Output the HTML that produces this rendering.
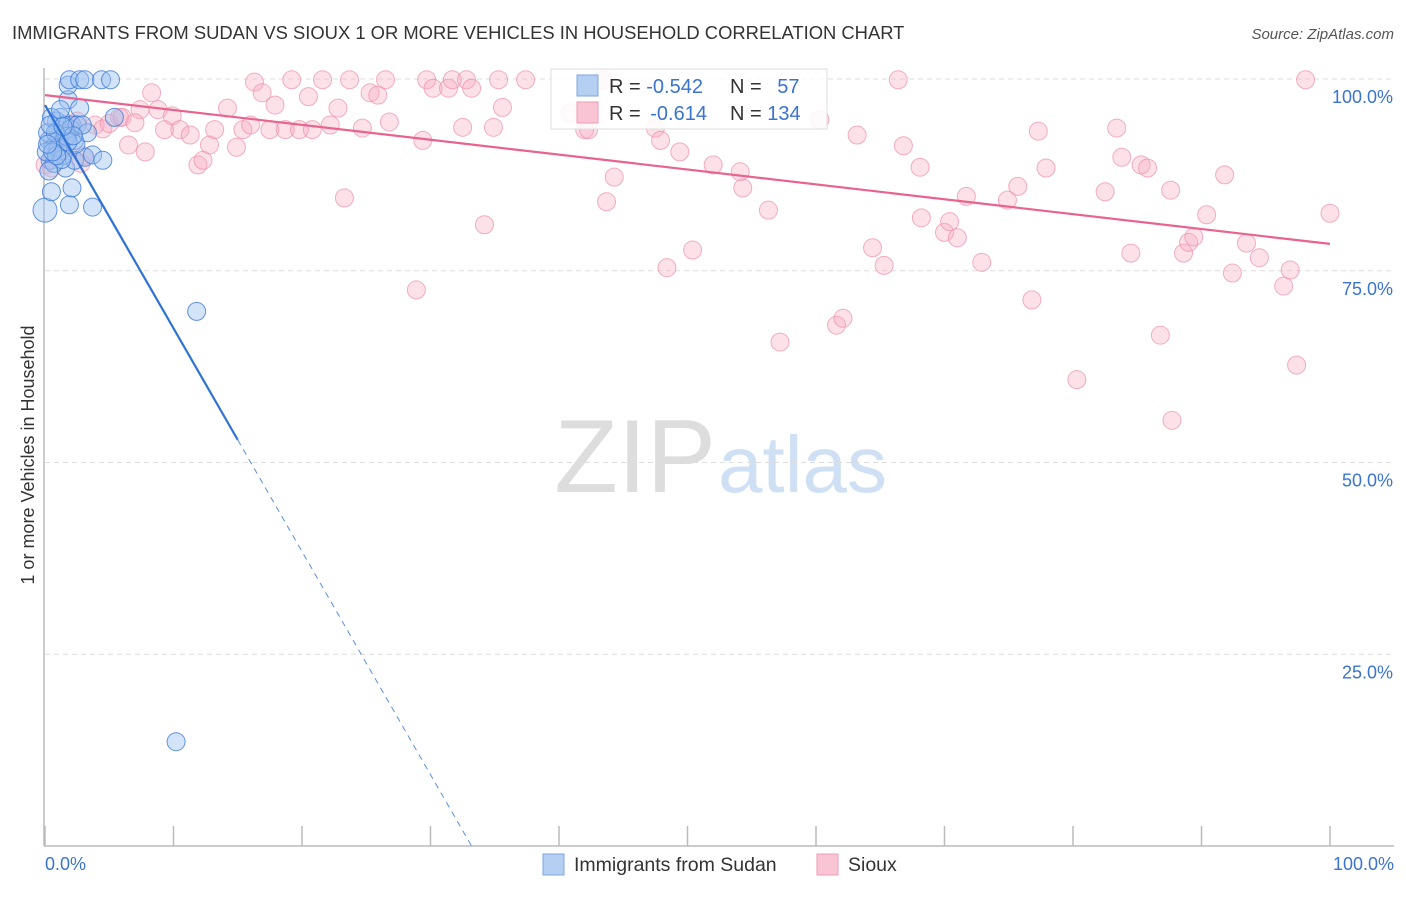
<!DOCTYPE html>
<html><head><meta charset="utf-8"><style>
body{margin:0;background:#fff;font-family:"Liberation Sans",sans-serif}
svg text{font-family:"Liberation Sans",sans-serif}
</style></head><body>
<svg width="1406" height="892" viewBox="0 0 1406 892">
<text x="12" y="39" font-size="18.4" fill="#333">IMMIGRANTS FROM SUDAN VS SIOUX 1 OR MORE VEHICLES IN HOUSEHOLD CORRELATION CHART</text>
<text x="1394" y="39" font-size="15" fill="#555" font-style="italic" text-anchor="end">Source: ZipAtlas.com</text>
<text x="716" y="492" font-size="104" fill="#ddd" text-anchor="end" font-family="Liberation Serif">ZIP</text>
<text x="718" y="492" font-size="80" fill="#cfe0f5">atlas</text>
<g id="grid"></g>
<g id="axes"></g>
<g id="pts"></g>
<g id="lines"></g>
<text transform="translate(34,455) rotate(-90)" font-size="18" fill="#333" text-anchor="middle">1 or more Vehicles in Household</text>
<text x="45" y="870" font-size="18" fill="#3a73d0">0.0%</text>
<text x="1394" y="870" font-size="18" fill="#3a73d0" text-anchor="end">100.0%</text>
<g>
<rect x="543" y="854" width="21" height="21" fill="#b5cff3" stroke="#7ea6e0"/>
<text x="574" y="871" font-size="19.5" fill="#333">Immigrants from Sudan</text>
<rect x="817" y="854" width="21" height="21" fill="#f9c5d4" stroke="#ee9ab4"/>
<text x="848" y="871" font-size="19.5" fill="#333">Sioux</text>
</g>
<g>
<rect x="551" y="69" width="276" height="60" fill="#fff" fill-opacity="0.85" stroke="#ddd"/>
<rect x="577" y="75" width="21" height="21" fill="#b5cff3" stroke="#7ea6e0"/>
<text x="609" y="93" font-size="20" fill="#333">R = <tspan fill="#3a73d0">-0.542</tspan></text>
<text x="730" y="93" font-size="20" fill="#333">N = <tspan fill="#3a73d0" dx="10">57</tspan></text>
<rect x="577" y="102" width="21" height="21" fill="#f9c5d4" stroke="#ee9ab4"/>
<text x="609" y="120" font-size="20" fill="#333">R = <tspan fill="#3a73d0" dx="4">-0.614</tspan></text>
<text x="730" y="120" font-size="20" fill="#333">N = <tspan fill="#3a73d0">134</tspan></text>
</g>
</svg>
<script>
const yTicks=[25,50,75,100];
const yTickLabels=["25.0%","50.0%","75.0%","100.0%"];
const xTicks=[0,10,20,30,40,50,60,70,80,90,100];
const siouxX=[0,0.5,2,3.9,5.8,6.5,7.4,7.8,8.3,8.8,9.3,9.9,10.5,11.3,11.9,12.3,12.8,13.2,14.2,14.9,15.4,16,16.3,16.9,17.5,17.9,18.7,19.2,19.8,20.5,20.8,21.6,22.2,22.8,23.3,23.7,24.7,25.3,25.9,26.5,26.8,28.9,29.4,29.7,30.2,31.4,31.7,32.5,32.8,33.2,34.2,34.9,35.3,35.6,37.4,40.9,42,42.3,43.4,43.7,44.3,47.5,47.9,48.4,49.4,50.4,52,54.1,54.3,56.3,57.2,60.3,61.6,62.1,63.2,64.4,65.3,66.4,66.8,68.1,68.2,70,70.4,71,71.7,72.9,74.9,75.7,76.8,77.3,77.9,80.3,82.5,83.4,83.8,84.5,85.3,85.8,86.8,87.6,87.7,88.6,89,89.4,90.4,91.8,92.4,93.5,94.5,96.4,96.9,97.4,98.1,100,1,1.5,2.5,3,4.5,5,6,7,1.2,2.8];
const siouxY=[88.8,88.4,94,94,95,91.4,96,90.5,98.2,96,93.4,95.2,93.4,92.7,88.8,89.4,91.4,93.4,96.2,91.1,93.4,94,99.6,98.2,93.4,96.6,93.4,99.9,93.4,97.7,93.4,99.9,94,96.2,84.5,99.9,93.6,98.2,97.9,99.9,94.4,72.5,92,99.9,98.8,98.8,99.9,93.7,99.9,98.8,81,93.7,99.9,96.3,99.9,95.6,93.4,93.4,99.9,84,87.2,93.6,92,75.4,90.5,77.7,88.8,87.9,85.8,82.9,65.7,94.7,67.9,68.8,92.7,78,75.7,99.9,91.3,88.5,81.9,80,81.4,79.3,84.7,76.1,84.2,86,71.2,93.2,88.4,60.8,85.3,93.6,89.8,77.3,88.8,88.4,66.6,85.5,55.5,77.3,78.7,79.4,82.3,87.5,74.7,78.6,76.7,73,75.1,62.7,99.9,82.5,92,93,94.5,90,93.5,94.2,95,94.3,90.5,89];
const sudanX=[0,0.4,0.5,0.8,1,1.2,1.3,1.6,1.6,1.8,1.8,1.9,1.9,2.1,2.1,2.3,2.3,2.7,2.7,3.1,3.1,3.7,3.7,4.4,4.5,5.1,5.4,11.8,10.2,0.3,0.6,0.9,1.1,1.4,0.2,0.7,1.5,2,2.4,0.1,0.5,1,1.7,2.5,0.3,0.8,1.3,0.4,0.9,1.2,3.3,2.9,0.6,1.8,2.2,0.2,1.4];
const sudanY=[82.9,89.4,85.3,91.4,93.4,95,90.7,88.4,92.7,97.3,99.2,99.9,83.6,85.8,94,92,89.4,99.9,96.2,99.9,89.8,83.3,90.1,99.9,89.4,99.9,95,69.7,13.6,92,91,94.5,92.5,90,93,89,94,93.5,91.5,90.5,95,91,92.5,94,88,93,89.5,94,90,96,93,94,90.5,91.8,92.6,91.5,93.8];
const fits={sudan:[96.6,-2.91,15,33.2],sioux:[97.9,-0.194]};
const ns="http://www.w3.org/2000/svg";
const X=v=>45+v*12.85, Y=v=>846-v*7.67;
function mk(t,a,p){const e=document.createElementNS(ns,t);for(const k in a)e.setAttribute(k,a[k]);p.appendChild(e);return e;}
const grid=document.getElementById('grid'),axes=document.getElementById('axes'),pts=document.getElementById('pts'),lines=document.getElementById('lines');
yTicks.forEach((t,i)=>{
 const l=mk('line',{x1:45,x2:1394,y1:Y(t),y2:Y(t),stroke:'#ddd','stroke-dasharray':'5,4'},grid);
 
 
 const tx=mk('text',{x:1393,y:Y(t)+24,'font-size':18,fill:'#3a73d0','text-anchor':'end'},grid);
 tx.textContent=yTickLabels[i];
 
 
});
const ya=mk('line',{x1:44,x2:44,y1:68,y2:846,stroke:'#bbb','stroke-width':1.5},axes);


const xa=mk('line',{x1:44,x2:1394,y1:846,y2:846,stroke:'#bbb','stroke-width':1.5},axes);


xTicks.forEach(t=>{
 const l=mk('line',{x1:X(t),x2:X(t),y1:826,y2:846,stroke:'#bbb','stroke-width':1.5},axes);
 
 
});
siouxX.forEach((x,i)=>{
 const c=mk('circle',{cx:X(x),cy:Y(siouxY[i]),r:9,fill:'#f6a9c0','fill-opacity':0.35,stroke:'#ec8fab','stroke-opacity':0.7,'stroke-width':1},pts);
 
 
});
sudanX.forEach((x,i)=>{
 const c=mk('circle',{cx:X(x),cy:Y(sudanY[i]),r:i==0?12:9,fill:'#9dc0ef','fill-opacity':0.45,stroke:'#3d7ad8','stroke-opacity':0.8,'stroke-width':1},pts);
 
 
});
const s=fits.sudan,p=fits.sioux;
const l1=mk('line',{x1:X(0),y1:Y(s[0]),x2:X(s[2]),y2:Y(s[0]+s[1]*s[2]),stroke:'#2f72d6','stroke-width':2.2},lines);


const l2=mk('line',{x1:X(s[2]),y1:Y(s[0]+s[1]*s[2]),x2:X(s[3]),y2:Y(s[0]+s[1]*s[3]),stroke:'#5b8fdc','stroke-width':1,'stroke-dasharray':'6,5'},lines);


const l3=mk('line',{x1:X(0),y1:Y(p[0]),x2:X(100),y2:Y(p[0]+p[1]*100),stroke:'#e8638e','stroke-width':2.2},lines);


</script>
</body></html>
